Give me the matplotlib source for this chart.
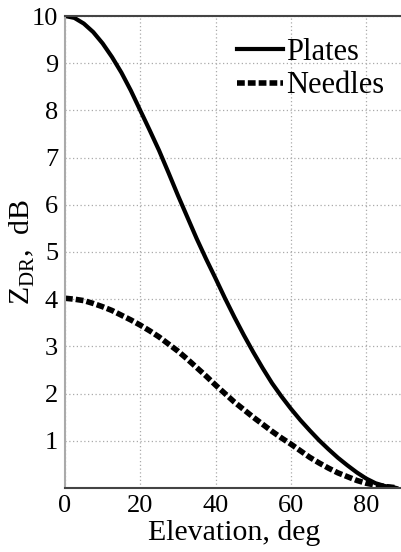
import matplotlib
matplotlib.use("Agg")
import matplotlib.pyplot as plt

plt.rcParams['font.family'] = ['Liberation Serif', 'DejaVu Serif']
plt.rcParams['mathtext.fontset'] = 'custom'
plt.rcParams['mathtext.rm'] = 'Liberation Serif'

# elevation angle, deg
elev = [0, 2.5, 5, 7.5, 10, 12.5, 15, 17.5, 20, 22.5, 25, 27.5, 30, 32.5, 35, 37.5,
        40, 42.5, 45, 47.5, 50, 52.5, 55, 57.5, 60, 62.5, 65, 67.5, 70, 72.5, 75,
        77.5, 80, 82.5, 85, 87.5, 88]
# ZDR of plates, dB
plates = [10.0, 9.96, 9.84, 9.66, 9.42, 9.13, 8.8, 8.42, 8.0, 7.58, 7.15, 6.68, 6.2,
          5.74, 5.28, 4.85, 4.44, 4.02, 3.62, 3.24, 2.88, 2.54, 2.22, 1.94, 1.68, 1.44,
          1.22, 1.01, 0.82, 0.64, 0.48, 0.33, 0.2, 0.1, 0.04, 0.01, 0.0]
# ZDR of needles, dB
needles = [4.02, 4.0, 3.97, 3.91, 3.84, 3.76, 3.66, 3.56, 3.45, 3.33, 3.2, 3.05, 2.9,
           2.73, 2.55, 2.37, 2.18, 2.0, 1.82, 1.66, 1.5, 1.35, 1.2, 1.06, 0.93, 0.79,
           0.65, 0.53, 0.42, 0.32, 0.24, 0.16, 0.1, 0.06, 0.03, 0.01, 0.0]

xticks = [0, 20, 40, 60, 80]
yticks = [1, 2, 3, 4, 5, 6, 7, 8, 9, 10]

fig = plt.figure(figsize=(4.01, 5.52), dpi=100)
ax = fig.add_axes([0.162, 0.116, 0.845, 0.855])

ax.plot(elev, plates, color='black', lw=3, label='Plates')
ax.plot(elev, needles, color='black', lw=4, ls=(0, (1.4, 0.55)), label='Needles')

ax.set_xlim(0, 90)
ax.set_ylim(0, 10)
ax.set_xticks(xticks)
ax.set_yticks(yticks)
ax.tick_params(direction='in', length=0, labelsize=19, pad=5)
ax.grid(True, ls=(0, (1, 2)), color='#aaaaaa', lw=0.9)

ax.spines['right'].set_visible(False)
ax.spines['left'].set_color('#aaaaaa')
ax.spines['left'].set_linewidth(1.5)
ax.spines['bottom'].set_color('#444444')
ax.spines['bottom'].set_linewidth(1.5)
ax.spines['top'].set_color('#444444')
ax.spines['top'].set_linewidth(1.5)

ax.set_xlabel('Elevation, deg', fontsize=21.5, labelpad=2)
ax.set_ylabel(r'Z$_{\rm DR}$,  dB', fontsize=21.5, labelpad=-4)

leg = ax.legend(loc='upper right', fontsize=22, frameon=False, handlelength=1.5,
                handletextpad=0.1, labelspacing=0.15, borderaxespad=0,
                bbox_to_anchor=(0.977, 0.98))

fig.savefig('out.png', dpi=100)
